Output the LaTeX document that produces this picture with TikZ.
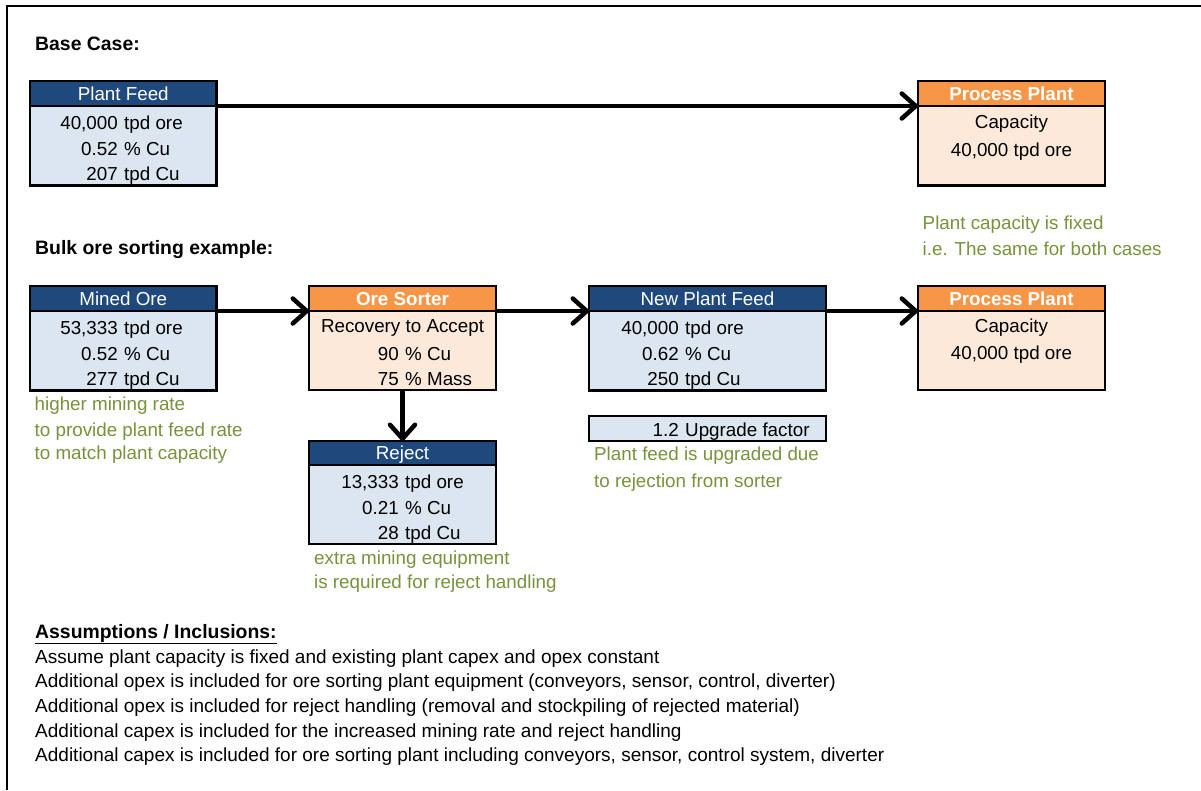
\documentclass[tikz,border=0pt]{standalone}
\usepackage{fontspec}
\setmainfont{Liberation Sans}
\usetikzlibrary{arrows.meta}
\definecolor{hdrblue}{HTML}{1F497D}
\definecolor{bodyblue}{HTML}{DCE6F1}
\definecolor{hdrorange}{HTML}{F79646}
\definecolor{bodyorange}{HTML}{FDE9D9}
\definecolor{notegreen}{HTML}{77933C}
\begin{document}
\begin{tikzpicture}[x=1pt,y=-1pt, font=\fontsize{18.8}{22}\selectfont,
 box/.style={draw=black, line width=2.5pt, anchor=north west, inner sep=0pt, outer sep=0pt},
 hdrb/.style={box, fill=hdrblue, text=white, text height=13.5pt, text depth=0pt},
 hdro/.style={box, fill=hdrorange, text=white, font=\fontsize{18.8}{22}\selectfont\bfseries, text height=13.5pt, text depth=0pt},
 bodyb/.style={box, fill=bodyblue},
 bodyo/.style={box, fill=bodyorange},
 num/.style={anchor=base east, inner sep=0pt},
 unit/.style={anchor=base west, inner sep=0pt},
 ctr/.style={anchor=base, inner sep=0pt},
 lft/.style={anchor=base west, inner sep=0pt},
 asmtxt/.style={lft, font=\fontsize{19.0}{22}\selectfont},
 notetxt/.style={lft, text=notegreen},
 titletxt/.style={lft, font=\fontsize{19.4}{22}\selectfont\bfseries},
 arr/.style={line width=4.5pt, -{Straight Barb[length=14pt, width=25pt, round]}}
]
\useasboundingbox (0,0) rectangle (1201,790);
\fill[white] (0,0) rectangle (1201,790);
% frame
\draw[line width=2pt] (7,790) -- (7,6) -- (1201,6);

% titles
\node[titletxt] (t1) at (35,50) {Base Case:};
\node[titletxt] (t2) at (35,254) {Bulk ore sorting example:};

% ---- Base case
\node[bodyb, minimum width=186.5pt, minimum height=79.5pt] (pfb) at (30,106) {};
\node[hdrb, minimum width=186.5pt, minimum height=25pt] (pfh) at (30,81) {Plant Feed};
\node[num] (pf1n) at (118,129) {40,000}; \node[unit] (pf1u) at (124,129) {tpd ore};
\node[num] (pf2n) at (118,155) {0.52};   \node[unit] (pf2u) at (124,155) {\% Cu};
\node[num] (pf3n) at (118,180) {207};    \node[unit] (pf3u) at (124,180) {tpd Cu};

\node[bodyo, minimum width=187pt, minimum height=79.5pt] (ppb) at (918,106) {};
\node[hdro, minimum width=187pt, minimum height=25pt] (pph) at (918,81) {Process Plant};
\node[ctr] (pp1) at (1011.5,128) {Capacity};
\node[ctr] (pp2) at (1011.5,156) {40,000 tpd ore};

\draw[arr] (pfh.south east) -- (pph.south west);

\node[notetxt] (n1a) at (922.5,229) {Plant capacity is fixed};
\node[notetxt] (n1b) at (922.5,255) {i.e. The same for both cases};

% ---- Bulk ore sorting
\node[bodyb, minimum width=186.5pt, minimum height=79.5pt] (mob) at (30,311) {};
\node[hdrb, minimum width=186.5pt, minimum height=25pt] (moh) at (30,286) {Mined Ore};
\node[num] (mo1n) at (118,334) {53,333}; \node[unit] (mo1u) at (124,334) {tpd ore};
\node[num] (mo2n) at (118,360) {0.52};   \node[unit] (mo2u) at (124,360) {\% Cu};
\node[num] (mo3n) at (118,385) {277};    \node[unit] (mo3u) at (124,385) {tpd Cu};

\node[bodyo, minimum width=187pt, minimum height=79pt] (osb) at (309,311) {};
\node[hdro, minimum width=187pt, minimum height=25pt] (osh) at (309,286) {Ore Sorter};
\node[ctr] (os0) at (402.5,332) {Recovery to Accept};
\node[num] (os1n) at (399,360) {90}; \node[unit] (os1u) at (405,360) {\% Cu};
\node[num] (os2n) at (399,385) {75}; \node[unit] (os2u) at (405,385) {\% Mass};

\node[bodyb, minimum width=187pt, minimum height=79pt] (rjb) at (309,465) {};
\node[hdrb, minimum width=187pt, minimum height=24pt] (rjh) at (309,441) {Reject};
\node[num] (rj1n) at (399,488) {13,333}; \node[unit] (rj1u) at (405,488) {tpd ore};
\node[num] (rj2n) at (399,514) {0.21};   \node[unit] (rj2u) at (405,514) {\% Cu};
\node[num] (rj3n) at (399,539) {28};     \node[unit] (rj3u) at (405,539) {tpd Cu};

\node[bodyb, minimum width=237pt, minimum height=79.5pt] (npb) at (589,311) {};
\node[hdrb, minimum width=237pt, minimum height=25pt] (nph) at (589,286) {New Plant Feed};
\node[num] (np1n) at (679,334) {40,000}; \node[unit] (np1u) at (685,334) {tpd ore};
\node[num] (np2n) at (679,360) {0.62};   \node[unit] (np2u) at (685,360) {\% Cu};
\node[num] (np3n) at (679,385) {250};    \node[unit] (np3u) at (685,385) {tpd Cu};

\node[bodyb, minimum width=237pt, minimum height=25pt] (upb) at (589,416) {};
\node[num] (upn) at (679,436) {1.2}; \node[unit] (upu) at (685,436) {Upgrade factor};

\node[bodyo, minimum width=187pt, minimum height=79pt] (p2b) at (918,311) {};
\node[hdro, minimum width=187pt, minimum height=25pt] (p2h) at (918,286) {Process Plant};
\node[ctr] (p21) at (1011.5,332) {Capacity};
\node[ctr] (p22) at (1011.5,359) {40,000 tpd ore};

\draw[arr] (moh.south east) -- (osh.south west);
\draw[arr] (osh.south east) -- (nph.south west);
\draw[arr] (nph.south east) -- (p2h.south west);
\draw[arr] (osb.south) -- (rjh.north);

\node[notetxt] (n2a) at (34.5,410) {higher mining rate};
\node[notetxt] (n2b) at (34.5,436) {to provide plant feed rate};
\node[notetxt] (n2c) at (34.5,459) {to match plant capacity};
\node[notetxt] (n3a) at (594,460) {Plant feed is upgraded due};
\node[notetxt] (n3b) at (594,487) {to rejection from sorter};
\node[notetxt] (n4a) at (314,564) {extra mining equipment};
\node[notetxt] (n4b) at (314,588) {is required for reject handling};

% ---- Assumptions
\node[titletxt] (as0) at (35,638) {\underline{Assumptions / Inclusions:}};
\node[asmtxt] (as1) at (35,663) {Assume plant capacity is fixed and existing plant capex and opex constant};
\node[asmtxt] (as2) at (35,687) {Additional opex is included for ore sorting plant equipment (conveyors, sensor, control, diverter)};
\node[asmtxt] (as3) at (35,712) {Additional opex is included for reject handling (removal and stockpiling of rejected material)};
\node[asmtxt] (as4) at (35,737) {Additional capex is included for the increased mining rate and reject handling};
\node[asmtxt] (as5) at (35,761) {Additional capex is included for ore sorting plant including conveyors, sensor, control system, diverter};
\end{tikzpicture}
\end{document}
